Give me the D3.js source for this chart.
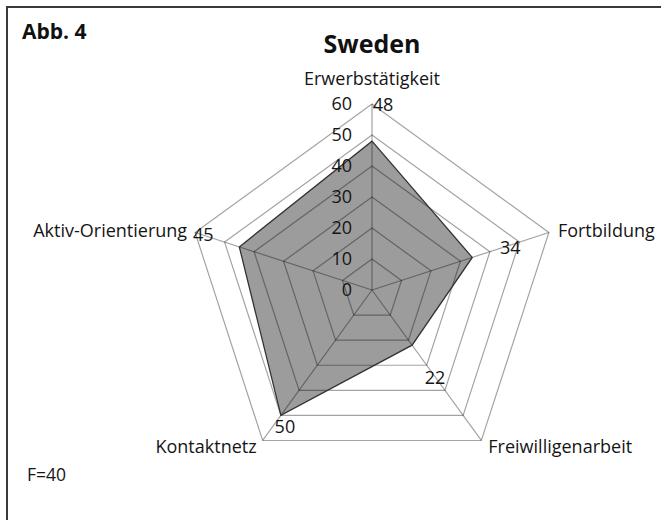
<!DOCTYPE html>
<html>
<head>
<meta charset="utf-8">
<script src="https://cdn.jsdelivr.net/npm/d3@7"></script>
<style>
    body { margin: 0; background: #fff; }
    svg { display: block; font-family: 'Open Sans', sans-serif; }
</style>
</head>
<body>
<svg id="chart" width="661" height="520"></svg>
<script>
// data
const categories = ['Erwerbstätigkeit', 'Fortbildung', 'Freiwilligenarbeit', 'Kontaktnetz', 'Aktiv-Orientierung']
const values = [48, 34, 22, 50, 45]
const ringTicks = [0, 10, 20, 30, 40, 50, 60]
const title = 'Sweden'
const figLabel = 'Abb. 4'
const note = 'F=40'

// layout
const CX = 372
const CY = 290
const R = 186
const GRID_STROKE = 'rgba(0,0,0,0.36)'
const FILL = '#9c9c9c'
const OUTLINE = '#333'
const TEXT = '#151515'
// value label nudges from the data vertex, placed by hand in the original
const valueLabelNudge = [[11, -37], [38, -10], [23, 32], [4, 11], [-36, -12]]

const svg = d3.select('#chart')

const r = d3.scaleLinear().domain([0, 60]).range([0, R])
const angle = d3.scalePoint().domain(d3.range(categories.length + 1)).range([0, 2 * Math.PI])
const pt = (i, v) => {
    const a = angle(i % categories.length)
    return [CX + r(v) * Math.sin(a), CY - r(v) * Math.cos(a)]
}
const ring = v => categories.map((c, i) => pt(i, v))

// frame
svg.append('rect')
    .attr('x', 7).attr('y', 7)
    .attr('width', 680).attr('height', 540)
    .attr('fill', 'none')
    .attr('stroke', '#3a3a3a')
    .attr('stroke-width', 2)

svg.append('text')
    .text(figLabel)
    .attr('x', 22).attr('y', 39)
    .attr('font-size', 21)
    .attr('font-weight', 700)
    .attr('fill', '#111')

svg.append('text')
    .text(title)
    .attr('x', CX).attr('y', 53)
    .attr('text-anchor', 'middle')
    .attr('font-size', 25)
    .attr('font-weight', 700)
    .attr('fill', '#111')

// filled series
const g = svg.append('g')
g.append('polygon')
    .attr('points', values.map((v, i) => pt(i, v).join(',')).join(' '))
    .attr('fill', FILL)

// grid rings and spokes drawn over the fill
g.selectAll('.ring')
    .data(ringTicks.filter(t => t > 0))
    .join('polygon')
    .attr('class', 'ring')
    .attr('points', d => ring(d).map(p => p.join(',')).join(' '))
    .attr('fill', 'none')
    .attr('stroke', GRID_STROKE)
    .attr('stroke-width', 1.2)

g.selectAll('.spoke')
    .data(categories)
    .join('line')
    .attr('class', 'spoke')
    .attr('x1', CX).attr('y1', CY)
    .attr('x2', (d, i) => pt(i, 60)[0])
    .attr('y2', (d, i) => pt(i, 60)[1])
    .attr('stroke', GRID_STROKE)
    .attr('stroke-width', 1.2)

g.append('polygon')
    .attr('points', values.map((v, i) => pt(i, v).join(',')).join(' '))
    .attr('fill', 'none')
    .attr('stroke', OUTLINE)
    .attr('stroke-width', 1.3)
    .attr('stroke-linejoin', 'miter')

// axis numbers
g.selectAll('.tick')
    .data(ringTicks)
    .join('text')
    .attr('class', 'tick')
    .text(d => d)
    .attr('x', CX - 20)
    .attr('y', d => CY - r(d))
    .attr('dy', '0.36em')
    .attr('text-anchor', 'end')
    .attr('font-size', 18)
    .attr('fill', TEXT)

// category labels
const catAnchor = ['middle', 'start', 'start', 'end', 'end']
const catShift = [[0, -19], [9, 4], [7, 13], [-6, 13], [-8, 4]]
g.selectAll('.cat')
    .data(categories)
    .join('text')
    .attr('class', 'cat')
    .text(d => d)
    .attr('x', (d, i) => pt(i, 60)[0] + catShift[i][0])
    .attr('y', (d, i) => pt(i, 60)[1] + catShift[i][1])
    .attr('text-anchor', (d, i) => catAnchor[i])
    .attr('font-size', 18)
    .attr('fill', TEXT)

// value labels
g.selectAll('.val')
    .data(values)
    .join('text')
    .attr('class', 'val')
    .text(d => d)
    .attr('x', (d, i) => pt(i, d)[0] + valueLabelNudge[i][0])
    .attr('y', (d, i) => pt(i, d)[1] + valueLabelNudge[i][1])
    .attr('dy', '0.36em')
    .attr('text-anchor', 'middle')
    .attr('font-size', 18)
    .attr('fill', TEXT)

svg.append('text')
    .text(note)
    .attr('x', 27).attr('y', 481)
    .attr('font-size', 17.5)
    .attr('fill', TEXT)
</script>
</body>
</html>
